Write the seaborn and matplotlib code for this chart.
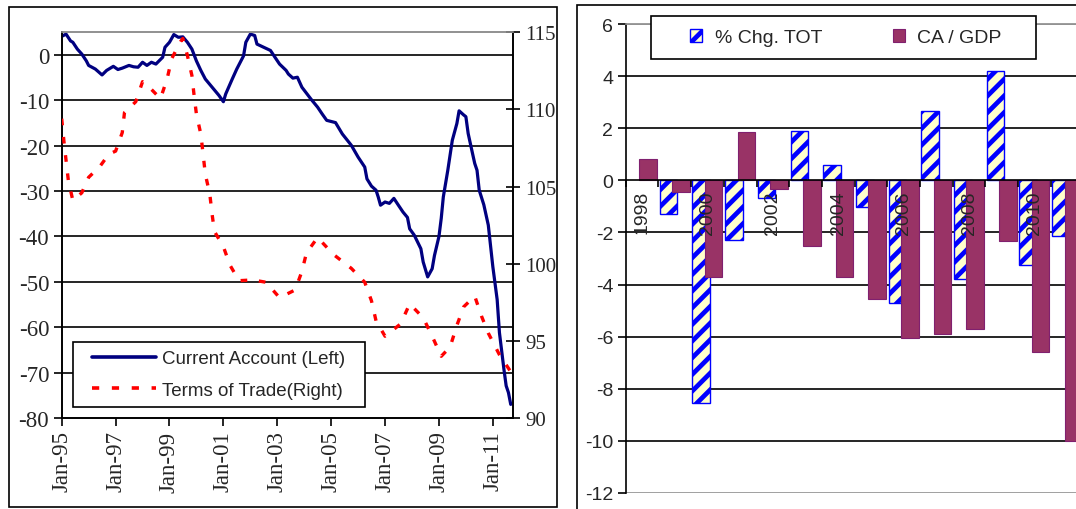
import numpy as np
import pandas as pd
import matplotlib
matplotlib.use("Agg")
import matplotlib.pyplot as plt
import matplotlib.dates as mdates
from matplotlib.patches import Rectangle, Patch
from matplotlib.lines import Line2D
import seaborn as sns

# ---------------- data: left panel (monthly readings) ----------------
ca_dates = ["1995-01", "1995-03", "1995-05", "1995-06", "1995-08", "1995-10", "1995-12",
            "1996-01", "1996-04", "1996-07", "1996-09", "1996-12", "1997-02", "1997-04",
            "1997-07", "1997-09", "1997-11", "1998-01", "1998-03", "1998-05", "1998-07",
            "1998-10", "1998-11", "1999-01", "1999-03", "1999-05", "1999-07", "1999-09",
            "1999-11", "2000-01", "2000-03", "2000-05", "2000-08", "2000-11", "2001-01",
            "2001-02", "2001-05", "2001-07", "2001-10", "2001-11", "2002-01", "2002-03",
            "2002-04", "2002-07", "2002-10", "2002-12", "2003-02", "2003-05", "2003-06",
            "2003-08", "2003-10", "2003-12", "2004-04", "2004-07", "2004-09", "2004-11",
            "2005-03", "2005-06", "2005-10", "2006-01", "2006-04", "2006-05", "2006-07",
            "2006-09", "2006-10", "2006-11", "2007-01", "2007-03", "2007-05", "2007-07",
            "2007-09", "2007-11", "2007-12", "2008-02", "2008-05", "2008-06", "2008-08",
            "2008-10", "2008-11", "2009-01", "2009-02", "2009-03", "2009-05", "2009-07",
            "2009-09", "2009-10", "2009-12", "2010-01", "2010-02", "2010-04", "2010-05",
            "2010-06", "2010-07", "2010-09", "2010-11", "2011-01", "2011-03", "2011-04",
            "2011-06", "2011-07", "2011-08", "2011-09"]
ca_values = [4.1, 4.6, 3.1, 2.8, 1.3, 0.2, -1.3,
             -2.3, -3.1, -4.4, -3.4, -2.5, -3.2, -2.9,
             -2.3, -2.6, -2.7, -1.6, -2.3, -1.6, -2.0,
             -0.5, 1.7, 2.8, 4.5, 3.9, 4.0, 2.8,
             1.3, -1.3, -3.4, -5.3, -7.1, -8.9, -10.3,
             -8.6, -5.3, -3.1, -0.2, 2.8, 4.6, 4.3,
             2.4, 1.7, 1.0, -0.5, -2.0, -3.4, -4.2,
             -5.1, -4.9, -7.1, -9.7, -11.5, -13.0, -14.4,
             -14.9, -17.4, -19.9, -22.5, -24.7, -27.3, -28.9,
             -29.8, -31.3, -33.1, -32.4, -32.7, -31.6, -33.1,
             -34.6, -35.8, -38.3, -39.7, -42.7, -45.6, -48.9,
             -47.1, -44.2, -40.0, -36.0, -31.3, -25.4, -18.8,
             -15.1, -12.3, -13.2, -13.6, -17.3, -21.7, -23.9,
             -25.4, -29.8, -33.0, -37.5, -46.6, -53.9, -61.2,
             -69.3, -72.9, -74.4, -77.0]

tot_dates = ["1995-01", "1995-02", "1995-03", "1995-04", "1995-06", "1995-10", "1996-01",
             "1996-06", "1996-10", "1997-01", "1997-04", "1997-05", "1997-10", "1998-01",
             "1998-05", "1998-09", "1998-12", "1999-02", "1999-06", "1999-07", "1999-09",
             "1999-11", "1999-12", "2000-01", "2000-03", "2000-04", "2000-05", "2000-07",
             "2000-08", "2000-09", "2001-01", "2001-04", "2001-08", "2002-02", "2002-08",
             "2003-02", "2003-09", "2003-12", "2004-02", "2004-07", "2005-02", "2005-10",
             "2006-04", "2006-07", "2006-09", "2007-01", "2007-08", "2007-12", "2008-06",
             "2008-10", "2009-02", "2009-06", "2009-09", "2009-12", "2010-05", "2010-08",
             "2010-11", "2011-04", "2011-09"]
tot_values = [109.4, 107.9, 106.7, 105.4, 104.1, 104.6, 105.6,
              106.3, 107.1, 107.3, 108.5, 109.8, 110.5, 111.8,
              111.3, 110.7, 112.0, 113.3, 114.4, 114.6, 113.5,
              112.2, 110.9, 109.7, 108.4, 107.1, 105.8, 104.5,
              103.2, 102.1, 101.1, 99.9, 98.9, 98.95, 98.8,
              97.8, 98.3, 99.5, 100.7, 101.7, 100.6, 99.7,
              98.8, 97.6, 96.3, 95.3, 96.1, 97.4, 96.5,
              95.3, 94.0, 94.6, 96.0, 97.2, 97.9, 96.6,
              95.5, 94.1, 93.0]

x_tick_dates = ["1995-01", "1997-01", "1999-01", "2001-01", "2003-01",
                "2005-01", "2007-01", "2009-01", "2011-01"]
x_tick_labels = ["Jan-95", "Jan-97", "Jan-99", "Jan-01", "Jan-03",
                 "Jan-05", "Jan-07", "Jan-09", "Jan-11"]
left_y_ticks = [-80, -70, -60, -50, -40, -30, -20, -10, 0]
right_y_ticks = [90, 95, 100, 105, 110, 115]

# ---------------- data: right panel (annual) ----------------
years = ["1998", "1999", "2000", "2001", "2002", "2003", "2004",
         "2005", "2006", "2007", "2008", "2009", "2010", "2011"]
tot_chg = [np.nan, -1.28, -8.55, -2.28, -0.67, 1.88, 0.58,
           -1.03, -4.69, 2.67, -3.78, 4.18, -3.26, -2.14]
ca_gdp = [0.81, -0.45, -3.70, 1.87, -0.35, -2.53, -3.70,
          -4.56, -6.05, -5.88, -5.69, -2.33, -6.57, -10.0]
bar_y_ticks = [-12, -10, -8, -6, -4, -2, 0, 2, 4, 6]

# ---------------- style ----------------
sns.set_theme(style="white")
plt.rcParams['font.family'] = ['Liberation Sans', 'DejaVu Sans']
plt.rcParams['axes.unicode_minus'] = False
plt.rcParams['hatch.linewidth'] = 3.4
plt.rcParams['hatch.color'] = '#0000FF'

W, H = 1076, 510
fig = plt.figure(figsize=(W / 100, H / 100), dpi=100)
fig.patch.set_facecolor('white')


def fx(px):
    return px / W


def fy(py):
    return 1 - py / H


# panel borders
fig.patches.append(Rectangle((fx(9), fy(508)), fx(557) - fx(9), fy(8) - fy(508),
                             transform=fig.transFigure, fill=False,
                             edgecolor='black', lw=1.2, zorder=0))
fig.patches.append(Rectangle((fx(577), -0.1), 0.6, fy(6) + 0.1,
                             transform=fig.transFigure, fill=False,
                             edgecolor='black', lw=1.2, zorder=0))

serif = ['Liberation Serif', 'DejaVu Serif']

# ---------------- left panel ----------------
ax1 = fig.add_axes([fx(61.7), fy(419), fx(512.5) - fx(61.7), fy(33.3) - fy(419)])
ca_dt = pd.to_datetime(ca_dates, format="%Y-%m")
tot_dt = pd.to_datetime(tot_dates, format="%Y-%m")

sns.lineplot(x=ca_dt, y=ca_values, ax=ax1, color='#000080', lw=2.3, zorder=3)
ax1.set_ylim(-80, 5)
ax1.set_yticks(left_y_ticks)
ax1.set_yticklabels([str(v) for v in left_y_ticks], family=serif, fontsize=16.5)
for v in left_y_ticks[1:]:
    ax1.axhline(v, color='black', lw=1.2, zorder=1)
xt = mdates.date2num(pd.to_datetime(x_tick_dates, format="%Y-%m"))
ax1.set_xticks(xt)
ax1.set_xticklabels(x_tick_labels, rotation=90, family=serif, fontsize=16.5)
ax1.set_xlim(mdates.date2num(pd.Timestamp('1995-01-01')),
             mdates.date2num(pd.Timestamp('2011-09-25')))
ax1.tick_params(axis='both', direction='out', length=6, width=1.2, color='black',
                left=True, bottom=True, pad=3)
ax1.set_xlabel('')
ax1.set_ylabel('')
for s in ['left', 'bottom', 'right']:
    ax1.spines[s].set_color('black')
    ax1.spines[s].set_linewidth(1.2)
ax1.spines['top'].set_color('#909090')
ax1.spines['top'].set_linewidth(1.2)

ax2 = ax1.twinx()
sns.lineplot(x=tot_dt, y=tot_values, ax=ax2, color='#FF0000', lw=2.4, zorder=3)
ax2.lines[0].set_dashes((2, 3.5))
ax2.set_ylim(90, 115)
ax2.set_yticks(right_y_ticks)
ax2.set_yticklabels([str(v) for v in right_y_ticks], family=serif, fontsize=15)
ax2.tick_params(axis='y', direction='inout', length=10, width=1.2, color='black',
                right=True, pad=4)
ax2.set_ylabel('')
ax2.grid(False)
for s in ['left', 'bottom', 'right']:
    ax2.spines[s].set_color('black')
    ax2.spines[s].set_linewidth(1.2)
ax2.spines['top'].set_color('#909090')
ax2.spines['top'].set_linewidth(1.2)

h_ca = Line2D([], [], color='#000080', lw=2.6)
h_tot = Line2D([], [], color='#FF0000', lw=2.6, dashes=(2, 3.5))
box1 = Rectangle((fx(73.3), fy(408.3)), fx(365) - fx(73.3), fy(343.3) - fy(408.3),
                 transform=fig.transFigure, facecolor='white', edgecolor='black',
                 lw=1.2, zorder=20)
fig.patches.append(box1)
leg1 = fig.legend([h_ca, h_tot], ['Current Account (Left)', 'Terms of Trade(Right)'],
                  loc='center left', bbox_to_anchor=(fx(91.5), fy(375.5)),
                  frameon=False, fontsize=13.5, handlelength=3.45,
                  handletextpad=0.3, labelspacing=0.75, borderpad=0,
                  borderaxespad=0)
leg1.set_zorder(21)

# ---------------- right panel ----------------
ax3 = fig.add_axes([fx(625.7), fy(494), fx(1083.5) - fx(625.7), fy(25) - fy(494)])
bars_df = pd.DataFrame({
    'year': years * 2,
    'value': tot_chg + ca_gdp,
    'series': ['% Chg. TOT'] * len(years) + ['CA / GDP'] * len(years),
}).dropna()
sns.barplot(data=bars_df, x='year', y='value', hue='series', order=years,
            hue_order=['% Chg. TOT', 'CA / GDP'],
            palette={'% Chg. TOT': '#FFFFCC', 'CA / GDP': '#993366'},
            saturation=1, dodge=True, ax=ax3, legend=False, zorder=3)

bw = 0.54
offs = [-0.19, 0.19]
for ci, cont in enumerate(ax3.containers):
    for rect in cont.patches:
        cx = rect.get_x() + rect.get_width() / 2
        cat = int(round(cx))
        rect.set_x(cat + offs[ci] - bw / 2)
        rect.set_width(bw)
        if ci == 0:
            rect.set_facecolor('#FFFFCC')
            rect.set_edgecolor('#0000FF')
            rect.set_hatch('//')
            rect.set_linewidth(1.0)
        else:
            rect.set_facecolor('#993366')
            rect.set_edgecolor('#80206F')
            rect.set_linewidth(0.8)

ax3.set_xlim(-0.5, 13.5)
ax3.set_ylim(-12, 6)
ax3.set_yticks(bar_y_ticks)
ax3.set_yticklabels([str(v) for v in bar_y_ticks], fontsize=14)
for v in bar_y_ticks:
    if v in (-12, 6):
        ax3.axhline(v, color='#909090', lw=1.2, zorder=1)
    elif v != 0:
        ax3.axhline(v, color='black', lw=1.2, zorder=1)
ax3.spines['bottom'].set_position(('data', 0))
ax3.spines['bottom'].set_zorder(5)
ax3.spines['bottom'].set_color('black')
ax3.spines['bottom'].set_linewidth(1.2)
ax3.spines['left'].set_color('black')
ax3.spines['left'].set_linewidth(1.2)
ax3.spines['top'].set_color('#909090')
ax3.spines['right'].set_visible(False)
ax3.set_xticks(range(0, len(years), 2))
ax3.set_xticklabels(years[::2], rotation=90, fontsize=14)
ax3.set_xticks(np.arange(-0.5, len(years), 1), minor=True)
ax3.tick_params(axis='x', which='major', length=0, pad=7)
ax3.tick_params(axis='x', which='minor', direction='out', length=5, width=1.2,
                color='black', bottom=True)
ax3.tick_params(axis='y', direction='out', length=6, width=1.2, color='black',
                left=True, pad=3)
ax3.xaxis.set_zorder(6)
ax3.set_xlabel('')
ax3.set_ylabel('')

box2 = Rectangle((fx(651), fy(60)), fx(1036) - fx(651), fy(17) - fy(60),
                 transform=fig.transFigure, facecolor='white', edgecolor='black',
                 lw=1.2, zorder=20)
fig.patches.append(box2)
h1 = Patch(facecolor='#FFFFCC', edgecolor='#0000FF', hatch='//', lw=1.0)
h2 = Patch(facecolor='#993366', edgecolor='#80206F', lw=0.8)
leg2 = fig.legend([h1, h2], ['% Chg. TOT', 'CA / GDP'], ncol=2,
                  loc='center', bbox_to_anchor=(fx(846), fy(38.5)),
                  frameon=False, fontsize=14, handlelength=0.62,
                  handleheight=0.62, handletextpad=0.65, columnspacing=3.6,
                  borderpad=0, borderaxespad=0)
leg2.set_zorder(21)

fig.savefig('out.png', dpi=100, facecolor='white')
